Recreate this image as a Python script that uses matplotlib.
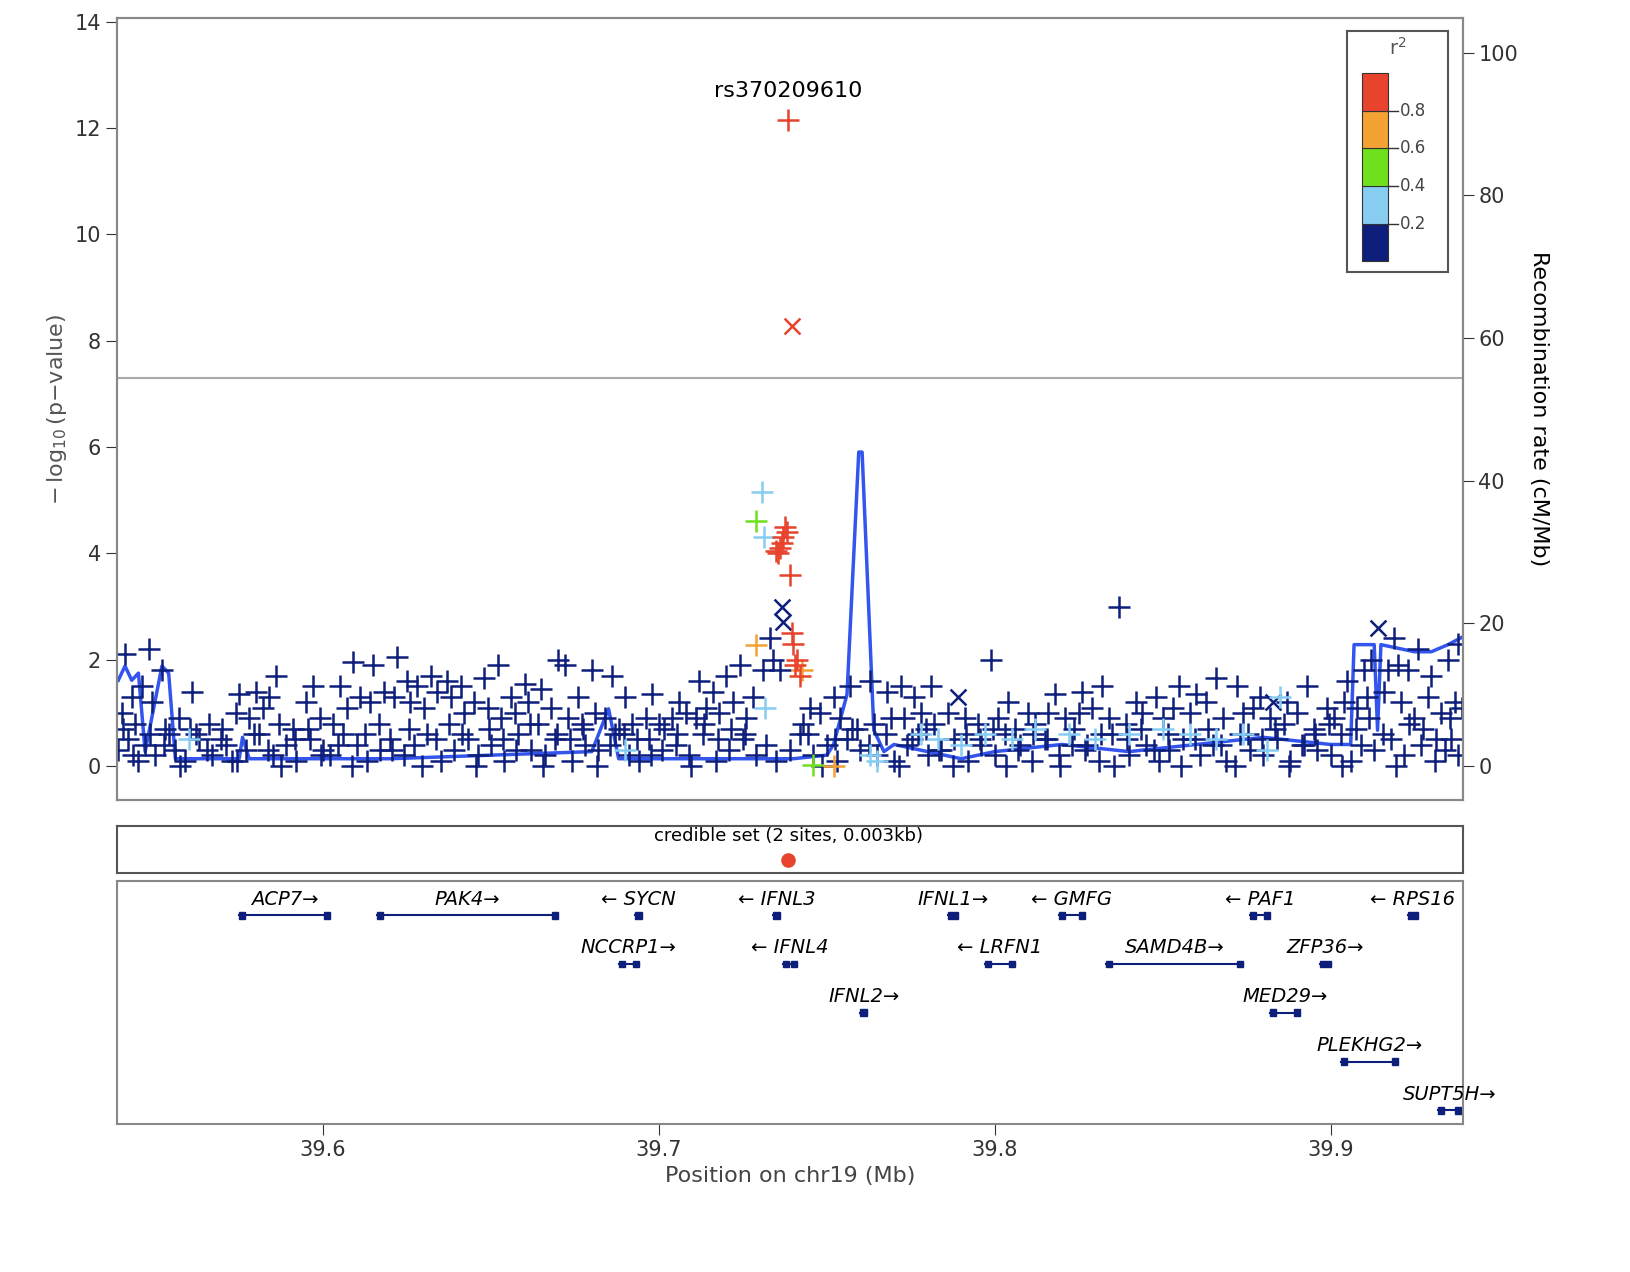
import matplotlib
matplotlib.use("Agg")
import matplotlib.pyplot as plt
from matplotlib.patches import Rectangle

NAVY = '#0d1f7a'; LBLUE = '#87cdf2'; GREEN = '#6ee01c'; ORANGE = '#f3a233'; RED = '#e8432c'
RECOMB = '#3355ee'

# background SNPs (r2 < 0.2)
hi_pos = [39.541,39.548,39.552,39.546,39.543,39.561,39.575,39.580,39.584,39.586,39.597,39.605,39.609,39.615,39.622,39.625,
          39.628,39.632,39.637,39.641,39.648,39.652,39.656,39.660,39.665,39.670,39.672,39.676,39.680,39.686,39.690,39.698,
          39.706,39.712,39.716,39.720,39.724,39.728,39.745,39.752,39.757,39.763,39.768,39.772,39.776,39.781,39.799,39.804,
          39.810,39.818,39.826,39.837,39.832,39.842,39.848,39.855,39.860,39.866,39.872,39.879,39.887,39.893,39.899,39.905,
          39.910,39.917,39.919,39.923,39.926,39.930,39.935,39.938,39.912,39.920,39.733,39.734,39.736,39.731]
hi_p = [2.1,2.2,1.8,1.5,1.3,1.4,1.35,1.4,1.3,1.7,1.5,1.5,1.95,1.9,2.05,1.6,
        1.5,1.7,1.6,1.5,1.65,1.9,1.3,1.55,1.45,2.0,1.9,1.3,1.8,1.7,1.3,1.35,
        1.2,1.6,1.4,1.7,1.9,1.3,1.1,1.3,1.5,1.6,1.4,1.5,1.3,1.5,2.0,1.2,
        1.0,1.35,1.4,3.0,1.5,1.2,1.3,1.5,1.35,1.65,1.5,1.3,1.2,1.5,1.1,1.6,
        1.8,1.8,2.4,1.8,2.2,1.7,2.0,2.3,2.0,1.9,2.4,2.0,1.8,1.8]
mid_pos = [39.540,39.544,39.549,39.553,39.557,39.562,39.566,39.570,39.574,39.578,39.582,39.587,39.591,39.595,39.599,39.603,
           39.607,39.611,39.614,39.618,39.621,39.626,39.630,39.634,39.638,39.642,39.645,39.649,39.653,39.657,39.661,39.664,
           39.668,39.673,39.677,39.681,39.684,39.688,39.692,39.696,39.700,39.704,39.708,39.711,39.714,39.718,39.722,39.726,
           39.743,39.748,39.754,39.759,39.764,39.769,39.773,39.778,39.782,39.786,39.791,39.795,39.801,39.806,39.812,39.816,
           39.821,39.825,39.829,39.834,39.839,39.844,39.850,39.853,39.858,39.863,39.868,39.874,39.877,39.882,39.886,39.890,
           39.895,39.901,39.904,39.908,39.911,39.916,39.921,39.925,39.929,39.933,39.937,39.939]
mid_p = [1.0,0.8,1.2,0.7,0.9,0.6,0.8,0.7,1.0,0.9,1.1,0.8,0.7,1.2,0.9,0.8,
         1.1,1.3,1.2,1.4,1.3,1.2,1.1,1.4,1.3,1.0,1.2,1.1,0.9,1.0,1.2,0.8,
         1.1,0.9,0.8,1.0,0.9,0.7,0.8,0.9,0.8,0.9,1.0,0.9,1.1,1.0,1.2,0.9,
         0.8,1.0,0.9,0.7,0.8,0.9,0.9,1.0,0.8,1.0,0.9,0.8,0.9,0.7,0.8,1.0,
         0.9,1.0,1.1,0.9,0.8,1.0,0.9,1.1,1.0,1.2,0.9,1.0,1.1,0.9,0.8,1.0,
         0.7,0.9,1.2,1.1,1.3,1.4,1.2,0.9,1.3,1.0,1.2,1.1]
low_pos = [39.539,39.542,39.545,39.547,39.550,39.554,39.556,39.559,39.563,39.567,39.571,39.573,39.577,39.581,39.585,39.589,
           39.592,39.596,39.600,39.602,39.606,39.610,39.613,39.617,39.620,39.624,39.627,39.631,39.635,39.639,39.643,39.646,
           39.650,39.654,39.658,39.662,39.666,39.669,39.674,39.678,39.682,39.687,39.691,39.694,39.697,39.701,39.705,39.709,
           39.713,39.717,39.721,39.725,39.729,39.732,39.735,39.739,39.742,39.746,39.750,39.753,39.756,39.760,39.765,39.770,
           39.774,39.777,39.780,39.784,39.788,39.792,39.796,39.800,39.803,39.807,39.811,39.815,39.819,39.823,39.827,39.831,
           39.835,39.840,39.845,39.849,39.852,39.856,39.861,39.865,39.869,39.873,39.876,39.880,39.884,39.888,39.892,39.896,
           39.900,39.903,39.906,39.909,39.913,39.918,39.922,39.927,39.931,39.934,39.936,39.938]
low_p = [0.3,0.5,0.1,0.4,0.2,0.6,0.3,0.1,0.5,0.2,0.4,0.1,0.3,0.6,0.2,0.4,
         0.1,0.5,0.3,0.2,0.6,0.4,0.1,0.3,0.5,0.2,0.4,0.6,0.1,0.3,0.5,0.2,
         0.4,0.1,0.6,0.3,0.2,0.5,0.1,0.4,0.3,0.6,0.2,0.1,0.5,0.3,0.4,0.2,
         0.6,0.1,0.3,0.5,0.2,0.4,0.1,0.3,0.6,0.2,0.4,0.1,0.5,0.3,0.2,0.1,
         0.4,0.6,0.2,0.3,0.5,0.1,0.4,0.2,0.6,0.3,0.1,0.5,0.2,0.4,0.3,0.1,
         0.6,0.2,0.4,0.1,0.3,0.5,0.2,0.4,0.1,0.6,0.3,0.2,0.5,0.1,0.4,0.3,
         0.2,0.6,0.1,0.4,0.3,0.5,0.2,0.4,0.1,0.3,0.5,0.2]
low2_pos = [39.5405,39.5435,39.5485,39.5525,39.5575,39.5605,39.5655,39.5695,39.5745,39.5795,39.5835,39.5875,39.5915,39.5955,
            39.5995,39.6045,39.6085,39.6125,39.6165,39.6205,39.6255,39.6295,39.6335,39.6375,39.6415,39.6455,39.6495,39.6535,
            39.6575,39.6615,39.6655,39.6695,39.6735,39.6775,39.6815,39.6855,39.6895,39.6935,39.6975,39.7015,39.7055,39.7095,
            39.7135,39.7175,39.7215,39.7255,39.7445,39.7485,39.7525,39.7575,39.7625,39.7675,39.7715,39.7755,39.7795,39.7835,
            39.7875,39.7915,39.7955,39.7995,39.8035,39.8075,39.8115,39.8155,39.8195,39.8235,39.8275,39.8315,39.8355,39.8395,
            39.8435,39.8475,39.8515,39.8555,39.8595,39.8635,39.8675,39.8715,39.8755,39.8795,39.8835,39.8875,39.8915,39.8955,
            39.8995,39.9035,39.9075,39.9115,39.9155,39.9195,39.9235,39.9275,39.9315,39.9355]
low2_p = [0.7,0.2,0.6,0.4,0.0,0.7,0.3,0.5,0.1,0.6,0.3,0.0,0.5,0.7,0.2,0.4,0.0,0.6,0.8,0.3,0.7,0.0,0.5,0.8,
          0.6,0.0,0.7,0.5,0.3,0.8,0.0,0.6,0.5,0.7,0.0,0.4,0.6,0.5,0.2,0.7,0.6,0.0,0.8,0.5,0.7,0.6,0.6,0.0,
          0.5,0.7,0.4,0.6,0.0,0.5,0.7,0.3,0.0,0.6,0.5,0.7,0.0,0.4,0.6,0.5,0.0,0.7,0.4,0.6,0.0,0.5,0.7,0.3,
          0.6,0.0,0.5,0.7,0.4,0.0,0.6,0.5,0.7,0.0,0.4,0.6,0.8,0.0,0.7,0.9,0.6,0.0,0.8,0.7,0.5,0.9]
x_pos = [39.7365,39.7368,39.7892,39.9140,39.8830]
x_p = [3.0,2.7,1.3,2.6,1.2]

lb_pos = [39.7308,39.7312,39.7315,39.763,39.778,39.783,39.790,39.797,39.805,39.812,39.822,39.830,39.840,39.850,39.858,39.866,39.874,39.881,39.885,39.560,39.690,39.765]
lb_p = [5.15,4.3,1.1,0.2,0.6,0.5,0.4,0.6,0.5,0.7,0.6,0.5,0.6,0.7,0.6,0.5,0.6,0.3,1.3,0.5,0.3,0.1]
gr_pos = [39.729,39.746]; gr_p = [4.6,0.02]
or_pos = [39.7288,39.752,39.7425]; or_p = [2.27,0.0,1.8]
red_pos = [39.7375,39.7380,39.7370,39.7365,39.7360,39.7355,39.7350,39.7390,39.7395,39.7400,39.7405,39.7410,39.7420]
red_p = [4.5,4.4,4.3,4.2,4.1,4.0,4.05,3.6,2.5,2.3,1.9,2.0,1.7]
lead_pos = 39.7385; lead_p = 12.15; lead_name = 'rs370209610'
sec_pos = 39.7397; sec_p = 8.27

rec_pos = [39.539,39.541,39.543,39.545,39.547,39.552,39.554,39.556,39.575,39.576,39.578,39.620,39.680,39.685,39.688,39.700,
           39.740,39.750,39.752,39.756,39.7595,39.7605,39.764,39.767,39.770,39.790,39.800,39.820,39.840,39.860,39.880,39.900,
           39.906,39.907,39.913,39.914,39.915,39.925,39.930,39.935,39.939]
rec_rate = [12,14,12,13,2,14,13,1,1,4,1,1,2,8,1,1,1,1.5,3,10,44,44,5,2,3,1,2,3,2,3,4,3,3,17,17,5,17,16,16,17,18]

genes = [('ACP7',39.575,39.602,1,0),('PAK4',39.616,39.670,1,0),('SYCN',39.693,39.695,-1,0),('IFNL3',39.734,39.736,-1,0),
         ('IFNL1',39.786,39.789,1,0),('GMFG',39.819,39.827,-1,0),('PAF1',39.876,39.882,-1,0),('RPS16',39.923,39.926,-1,0),
         ('NCCRP1',39.688,39.694,1,1),('IFNL4',39.737,39.741,-1,1),('LRFN1',39.797,39.806,-1,1),('SAMD4B',39.833,39.874,1,1),
         ('ZFP36',39.897,39.900,1,1),('IFNL2',39.760,39.762,1,2),('MED29',39.882,39.891,1,2),('PLEKHG2',39.903,39.920,1,3),
         ('SUPT5H',39.932,39.939,1,4)]

XL = (39.5386, 39.9393)
fig = plt.figure(figsize=(16.31, 12.72), dpi=100)
ax = fig.add_axes([0.0717, 0.371, 0.825, 0.615])
ax.set_xlim(*XL); ax.set_ylim(-0.64, 14.07)
ax2 = ax.twinx(); ax2.set_ylim(-4.8, 104.9)
ax2.plot(rec_pos, rec_rate, color=RECOMB, lw=2.5, zorder=1)
ax.set_zorder(ax2.get_zorder()+1); ax.patch.set_visible(False)
ax.axhline(7.3, color='#aaaaaa', lw=1.5)
kw = dict(marker='+', s=260, linewidths=1.8)
for P, V in [(low_pos, low_p), (low2_pos, low2_p), (mid_pos, mid_p), (hi_pos, hi_p)]:
    ax.scatter(P, V, color=NAVY, **kw)
ax.scatter(x_pos, x_p, color=NAVY, marker='x', s=130, linewidths=1.8)
ax.scatter(lb_pos, lb_p, color=LBLUE, **kw)
ax.scatter(gr_pos, gr_p, color=GREEN, **kw)
ax.scatter(or_pos, or_p, color=ORANGE, **kw)
ax.scatter(red_pos, red_p, color=RED, **kw)
ax.scatter([lead_pos], [lead_p], color=RED, **kw)
ax.scatter([sec_pos], [sec_p], color=RED, marker='x', s=130, linewidths=1.8)
ax.text(lead_pos, lead_p + 0.35, lead_name, ha='center', va='bottom', fontsize=16)
ax.set_yticks(range(0, 15, 2)); ax.set_xticks([])
ax.set_ylabel(r'$-\,\log_{10}$(p$-$value)', fontsize=16, color='#555555')
ax2.set_yticks(range(0, 101, 20))
ax2.set_ylabel('Recombination rate (cM/Mb)', fontsize=16, rotation=270, labelpad=22)
for a in (ax, ax2):
    a.tick_params(labelsize=15, length=8, colors='#333333')
    for s in a.spines.values(): s.set_color('#888888'); s.set_linewidth(1.5)

# legend
lg = fig.add_axes([0.826, 0.786, 0.062, 0.19]); lg.set_xlim(0, 1); lg.set_ylim(0, 1)
lg.set_xticks([]); lg.set_yticks([])
for s in lg.spines.values(): s.set_color('#555555'); s.set_linewidth(1.5)
cols = [NAVY, LBLUE, GREEN, ORANGE, RED]
y0, h = 0.045, 0.156
for i, c in enumerate(cols):
    lg.add_patch(Rectangle((0.15, y0 + i*h), 0.25, h, facecolor=c, edgecolor='#333333', lw=0.8))
for i, t in enumerate(['0.2', '0.4', '0.6', '0.8']):
    yy = y0 + (i+1)*h
    lg.plot([0.4, 0.5], [yy, yy], color='#333333', lw=1)
    lg.text(0.52, yy, t, va='center', fontsize=12, color='#444444')
lg.text(0.5, 0.93, r'r$^2$', ha='center', va='center', fontsize=14, color='#555555')

# credible set
cs = fig.add_axes([0.0717, 0.314, 0.825, 0.037]); cs.set_xlim(*XL); cs.set_ylim(0, 1)
cs.set_xticks([]); cs.set_yticks([])
for s in cs.spines.values(): s.set_color('#555555'); s.set_linewidth(1.5)
cs.scatter([lead_pos], [0.27], color=RED, s=90, zorder=3)
cs.text(lead_pos, 0.78, 'credible set (2 sites, 0.003kb)', ha='center', va='center', fontsize=13)

# genes
gx = fig.add_axes([0.0717, 0.116, 0.825, 0.191]); gx.set_xlim(*XL); gx.set_ylim(-4.29, 0.69)
gx.set_yticks([])
for s in gx.spines.values(): s.set_color('#888888'); s.set_linewidth(1.5)
for name, st, en, strand, row in genes:
    y = -row
    gx.plot([st, en], [y, y], color=NAVY, lw=1.5)
    w = 0.0018
    if en - st <= 2*w:
        gx.add_patch(Rectangle((st, y-0.07), max(en-st, w), 0.14, color=NAVY))
    else:
        for e in (st, en - w):
            gx.add_patch(Rectangle((e, y-0.07), w, 0.14, color=NAVY))
    lab = (name + '\u2192') if strand > 0 else ('\u2190 ' + name)
    gx.text((st+en)/2, y + 0.33, lab, ha='center', va='center', fontsize=14, style='italic')
gx.set_xticks([39.6, 39.7, 39.8, 39.9])
gx.tick_params(labelsize=15, length=8, colors='#333333')
gx.set_xlabel('Position on chr19 (Mb)', fontsize=16, color='#444444')
fig.savefig('out.png', dpi=100, facecolor='white')
